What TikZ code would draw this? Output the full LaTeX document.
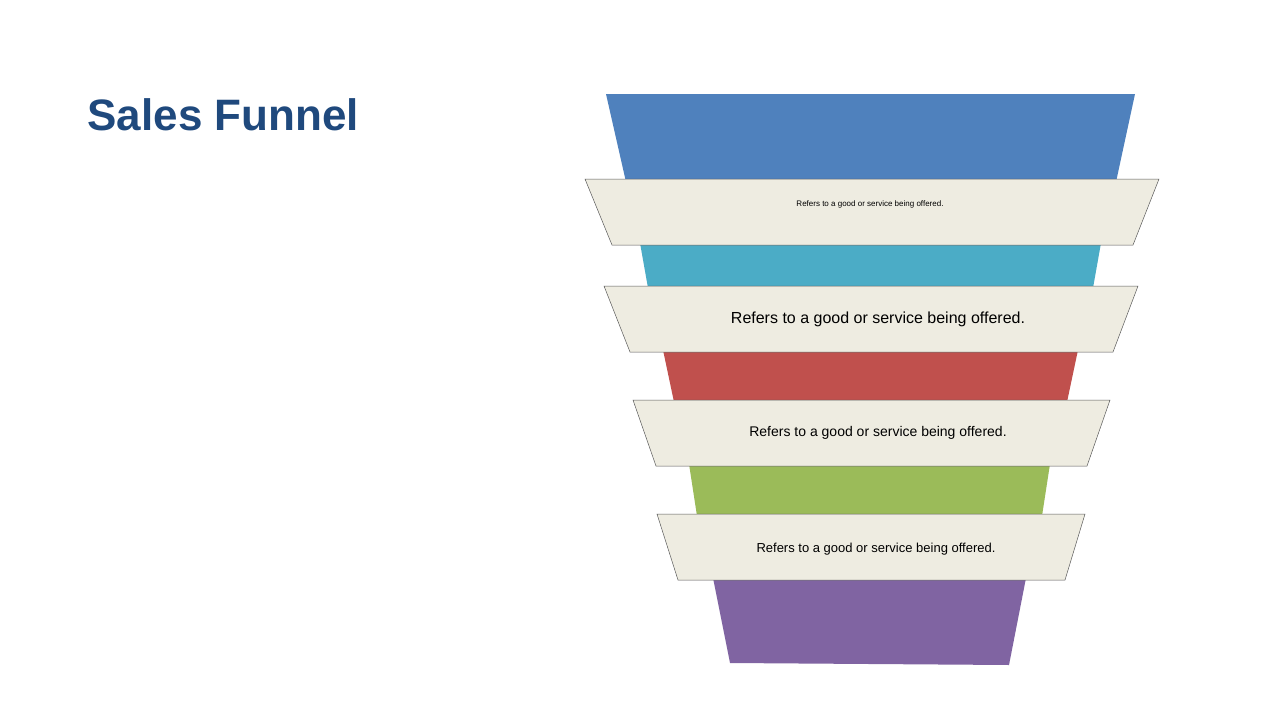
\documentclass[tikz,border=0pt]{standalone}
\usepackage{fontspec}
\setmainfont{Liberation Sans}
\definecolor{titleblue}{HTML}{1F497D}
\definecolor{stageblue}{HTML}{4F81BD}
\definecolor{stageteal}{HTML}{4BACC6}
\definecolor{stagered}{HTML}{C0504D}
\definecolor{stagegreen}{HTML}{9BBB59}
\definecolor{stagepurple}{HTML}{8064A2}
\definecolor{bandfill}{HTML}{EEECE1}
\tikzset{
  band/.style={fill=bandfill, draw=gray!70!black, line width=0.5pt},
  bandtext/.style={inner sep=0pt, text=black}
}
\begin{document}
\begin{tikzpicture}[x=1pt, y=-1pt]
    \useasboundingbox (0,0) rectangle (1280,720);
    % Title
    \node[anchor=west, text=titleblue, font=\bfseries\fontsize{44}{50}\selectfont] (title) at (84,115) {Sales Funnel};

    % Funnel stages
    \fill[stageblue] (606,94) -- (1135,94) -- (1116,182) -- (626,182) -- cycle;
    \fill[stageteal] (640,243) -- (1101,243) -- (1093,288) -- (648,288) -- cycle;
    \fill[stagered] (663,350) -- (1078,350) -- (1067,402) -- (674,402) -- cycle;
    \fill[stagegreen] (689,464) -- (1050,464) -- (1042,516) -- (697,516) -- cycle;
    \fill[stagepurple] (713,578) -- (1026,578) -- (1009,665) -- (730,663) -- cycle;

    % Bands
    \draw[band] (585,179) -- (1159,179) -- (1133,245) -- (612,245) -- cycle;
    \draw[band] (604,286) -- (1138,286) -- (1113,352) -- (630,352) -- cycle;
    \draw[band] (633,400) -- (1110,400) -- (1087,466) -- (656,466) -- cycle;
    \draw[band] (657,514) -- (1085,514) -- (1065,580) -- (678,580) -- cycle;

    % Band texts
    \node[bandtext, font=\fontsize{8}{10}\selectfont] (text1) at (870,204) {Refers to a good or service being offered.};
    \node[bandtext, font=\fontsize{16}{19}\selectfont] (text2) at (878,319) {Refers to a good or service being offered.};
    \node[bandtext, font=\fontsize{14}{17}\selectfont] (text3) at (878,433) {Refers to a good or service being offered.};
    \node[bandtext, font=\fontsize{13}{16}\selectfont] (text4) at (876,549) {Refers to a good or service being offered.};
\end{tikzpicture}
\end{document}
